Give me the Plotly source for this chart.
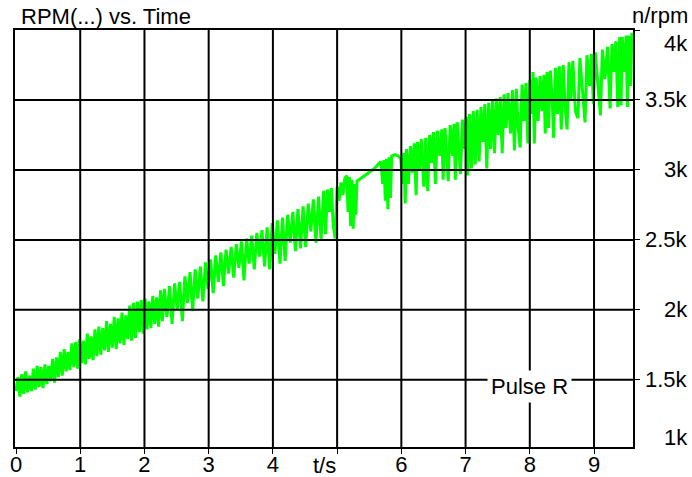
import plotly.graph_objects as go

# ---------------- data ----------------
time_a = [0.00, 0.03, 0.06, 0.09, 0.12, 0.15, 0.18, 0.21, 0.24, 0.27, 0.30, 0.33, 0.36, 0.39, 0.42, 0.45,
          0.48, 0.51, 0.54, 0.57, 0.60, 0.63, 0.66, 0.69, 0.72, 0.75, 0.78, 0.81, 0.84, 0.87, 0.90, 0.93,
          0.96, 0.99, 1.02, 1.05, 1.08, 1.11, 1.14, 1.17, 1.20, 1.23, 1.26, 1.29, 1.32, 1.35, 1.38, 1.41,
          1.44, 1.47, 1.50, 1.53, 1.56, 1.59, 1.62, 1.65, 1.68, 1.71, 1.74, 1.77, 1.80, 1.83, 1.86, 1.89,
          1.92, 1.95, 1.98, 2.01, 2.04, 2.07, 2.10, 2.13, 2.16, 2.19, 2.22, 2.25, 2.28]
rpm_a = [1420, 1520, 1380, 1540, 1400, 1560, 1410, 1530, 1420, 1580, 1430, 1600, 1450, 1590, 1440, 1610,
         1470, 1600, 1490, 1650, 1480, 1660, 1520, 1700, 1530, 1720, 1560, 1700, 1570, 1760, 1590, 1770,
         1580, 1790, 1620, 1780, 1610, 1830, 1650, 1810, 1640, 1860, 1670, 1880, 1680, 1870, 1710, 1920,
         1700, 1900, 1730, 1950, 1720, 1940, 1760, 1980, 1750, 1960, 1790, 2030, 1780, 2050, 1800, 2060,
         1840, 2070, 1830, 2080, 1860, 2060, 1870, 2100, 1900, 2090, 1880, 2140, 1920]

time_b = [2.31, 2.35, 2.39, 2.43, 2.47, 2.51, 2.55, 2.59, 2.63, 2.67, 2.71, 2.75, 2.79, 2.83, 2.87, 2.91,
          2.95, 2.99, 3.03, 3.07, 3.11, 3.15, 3.19, 3.23, 3.27, 3.31, 3.35, 3.39, 3.43, 3.47, 3.51, 3.55,
          3.59, 3.63, 3.67, 3.71, 3.75, 3.79, 3.83, 3.87, 3.91, 3.95, 3.99, 4.03, 4.07, 4.11, 4.15, 4.19,
          4.23, 4.27, 4.31, 4.35, 4.39, 4.43, 4.47, 4.51, 4.55, 4.59, 4.63, 4.67, 4.71, 4.75, 4.79]
rpm_b = [2150, 1950, 2170, 1900, 2190, 2000, 2200, 1920, 2240, 2050, 2270, 1990, 2290, 2080, 2310, 2060,
         2340, 2150, 2360, 2120, 2390, 2200, 2410, 2170, 2430, 2260, 2450, 2230, 2470, 2300, 2490, 2210,
         2510, 2330, 2530, 2290, 2550, 2380, 2570, 2310, 2590, 2290, 2620, 2400, 2640, 2330, 2660, 2350,
         2680, 2480, 2700, 2420, 2720, 2440, 2740, 2450, 2760, 2560, 2790, 2480, 2810, 2500, 2850]

time_c = [4.82, 4.85, 4.88, 4.91, 4.94, 4.97, 5.00, 5.03, 5.06, 5.09, 5.12, 5.15, 5.17, 5.19, 5.21, 5.23,
          5.25, 5.27, 5.29, 5.31, 5.34, 5.40, 5.46, 5.52, 5.58, 5.64, 5.68, 5.71, 5.73, 5.75, 5.77, 5.79,
          5.81, 5.83, 5.85, 5.90, 5.95, 5.99, 6.02, 6.04, 6.06, 6.08, 6.11, 6.14, 6.17, 6.20, 6.23, 6.25,
          6.28, 6.31, 6.35, 6.38, 6.41, 6.44, 6.47, 6.50, 6.53, 6.56, 6.60, 6.63, 6.65, 6.68, 6.71, 6.73,
          6.76, 6.80, 6.82, 6.84, 6.87, 6.90, 6.92, 6.95, 6.98, 7.01, 7.03, 7.06, 7.09, 7.12, 7.15, 7.18]
rpm_c = [2540, 2860, 2700, 2870, 2600, 2510, 2880, 2780, 2910, 2820, 2940, 2960, 2700, 2950, 2600, 2930,
         2580, 2900, 2680, 2920, 2930, 2950, 2970, 2990, 3010, 3040, 3060, 2900, 3070, 2780, 3080, 2720,
         3090, 2800, 3100, 3110, 3100, 3080, 2900, 3120, 2760, 3150, 2900, 3170, 2980, 3190, 2820, 3200,
         3000, 3220, 2880, 3230, 2850, 3250, 3050, 3270, 2900, 3280, 3100, 3290, 2930, 3300, 3050, 2920,
         3320, 3100, 3330, 2930, 3340, 3120, 2970, 3360, 3150, 3380, 2960, 3400, 3010, 3420, 3040, 3430]

time_d = [7.21, 7.24, 7.27, 7.30, 7.33, 7.36, 7.39, 7.42, 7.45, 7.48, 7.51, 7.54, 7.57, 7.60, 7.63, 7.66,
          7.70, 7.73, 7.76, 7.79, 7.82, 7.85, 7.88, 7.91, 7.94, 7.97, 8.00, 8.03, 8.05, 8.07, 8.10, 8.13,
          8.16, 8.19, 8.22, 8.24, 8.27, 8.29, 8.32, 8.35, 8.37, 8.40, 8.43, 8.46, 8.49, 8.52, 8.55, 8.58,
          8.61, 8.64, 8.67, 8.71, 8.75, 8.78, 8.82, 8.86, 8.89, 8.93, 8.96, 8.99, 9.02, 9.06, 9.10, 9.13,
          9.17, 9.21, 9.25, 9.28, 9.31, 9.34, 9.37, 9.40, 9.42, 9.44, 9.47, 9.50, 9.52, 9.54, 9.57, 9.59,
          9.61]
rpm_d = [3060, 3450, 3200, 3470, 3010, 3480, 3150, 3500, 3120, 3510, 3250, 3520, 3120, 3540, 3300, 3550,
         3260, 3570, 3140, 3580, 3300, 3160, 3610, 3350, 3620, 3190, 3640, 3400, 3700, 3190, 3660, 3350,
         3670, 3420, 3680, 3260, 3700, 3300, 3710, 3500, 3230, 3730, 3400, 3740, 3290, 3750, 3450, 3290,
         3770, 3500, 3780, 3420, 3370, 3800, 3550, 3340, 3820, 3600, 3830, 3470, 3840, 3580, 3390, 3860,
         3650, 3880, 3440, 3900, 3700, 3920, 3450, 3950, 3460, 3950, 3700, 3960, 3450, 3960, 3600, 3980,
         3900]

x_tick_vals = [0, 1, 2, 3, 4, 5, 6, 7, 8, 9]
x_tick_text = ["0", "1", "2", "3", "4", "", "6", "7", "8", "9"]
y_tick_vals = [1000, 1500, 2000, 2500, 3000, 3500, 4000]
y_tick_text = ["1k", "1.5k", "2k", "2.5k", "3k", "3.5k", "4k"]

title_text = "RPM(...) vs. Time"
x_unit = "t/s"
y_unit = "n/rpm"
series_name = "Pulse R"

# ---------------- figure ----------------
time_s = time_a + time_b + time_c + time_d
rpm = rpm_a + rpm_b + rpm_c + rpm_d

FONT = "Liberation Sans, Arial, sans-serif"
FS = 22
X_RANGE = [-0.0156, 9.607]
Y_RANGE = [1020, 4000]

fig = go.Figure()
fig.add_trace(go.Scatter(x=time_s, y=rpm, mode="lines", name=series_name,
                         line=dict(color="#00ff00", width=3), showlegend=False,
                         hoverinfo="skip"))

# grid lines drawn above the trace (as in the reference)
shapes = []
for v in x_tick_vals[1:]:
    shapes.append(dict(type="line", xref="x", yref="paper", x0=v, x1=v, y0=0, y1=1,
                       line=dict(color="black", width=2), layer="above"))
for v in y_tick_vals:
    if Y_RANGE[0] < v < Y_RANGE[1]:
        shapes.append(dict(type="line", xref="paper", yref="y", x0=0, x1=1, y0=v, y1=v,
                           line=dict(color="black", width=2), layer="above"))

annotations = []
# y tick labels, right aligned at the right edge
for v, t in zip(y_tick_vals, y_tick_text):
    yv = min(max(v, Y_RANGE[0]), Y_RANGE[1])
    shift = 0
    if v <= Y_RANGE[0]:
        shift = 10
    elif v >= Y_RANGE[1]:
        shift = -13
    annotations.append(dict(text=t, xref="paper", x=1, xshift=57, xanchor="right",
                            yref="y", y=yv, yshift=shift, yanchor="middle", showarrow=False,
                            font=dict(family=FONT, size=FS, color="black")))
annotations += [
    dict(text=title_text, xref="paper", x=0, xshift=4, xanchor="left",
         yref="paper", y=1, yshift=14, yanchor="middle", showarrow=False,
         font=dict(family=FONT, size=FS, color="black")),
    dict(text=y_unit, xref="paper", x=1, xshift=57, xanchor="right",
         yref="paper", y=1, yshift=15, yanchor="middle", showarrow=False,
         font=dict(family=FONT, size=FS, color="black")),
    dict(text=x_unit, xref="x", x=4.8, xanchor="center",
         yref="paper", y=0, yshift=-18, yanchor="middle", showarrow=False, borderpad=0,
         font=dict(family=FONT, size=FS, color="black")),
    dict(text=series_name, xref="x", x=8, xanchor="center",
         yref="y", y=1450, yanchor="middle", showarrow=False, bgcolor="white",
         borderpad=3, font=dict(family=FONT, size=FS, color="black")),
]

fig.update_layout(
    width=692, height=477,
    margin=dict(l=15, r=59, t=30, b=30, autoexpand=False),
    paper_bgcolor="white", plot_bgcolor="white",
    font=dict(family=FONT, size=FS, color="black"),
    shapes=shapes, annotations=annotations,
    xaxis=dict(range=X_RANGE, tickvals=x_tick_vals, ticktext=x_tick_text, automargin=False,
               showgrid=False, zeroline=False, showline=True, mirror=True,
               linecolor="black", linewidth=2, ticks="outside", ticklen=5,
               tickwidth=1, tickcolor="black", layer="above traces",
               ticklabelstandoff=-8,
               tickfont=dict(family=FONT, size=FS, color="black")),
    yaxis=dict(range=Y_RANGE, side="right", tickvals=y_tick_vals, showticklabels=False,
               automargin=False,
               showgrid=False, zeroline=False, showline=True, mirror=True,
               linecolor="black", linewidth=2, ticks="outside", ticklen=5,
               tickwidth=1, tickcolor="black", layer="above traces"),
)

fig.write_html("out.html", config={"displayModeBar": False},
               post_script="document.body.style.margin='0';document.body.style.overflow='hidden';")
